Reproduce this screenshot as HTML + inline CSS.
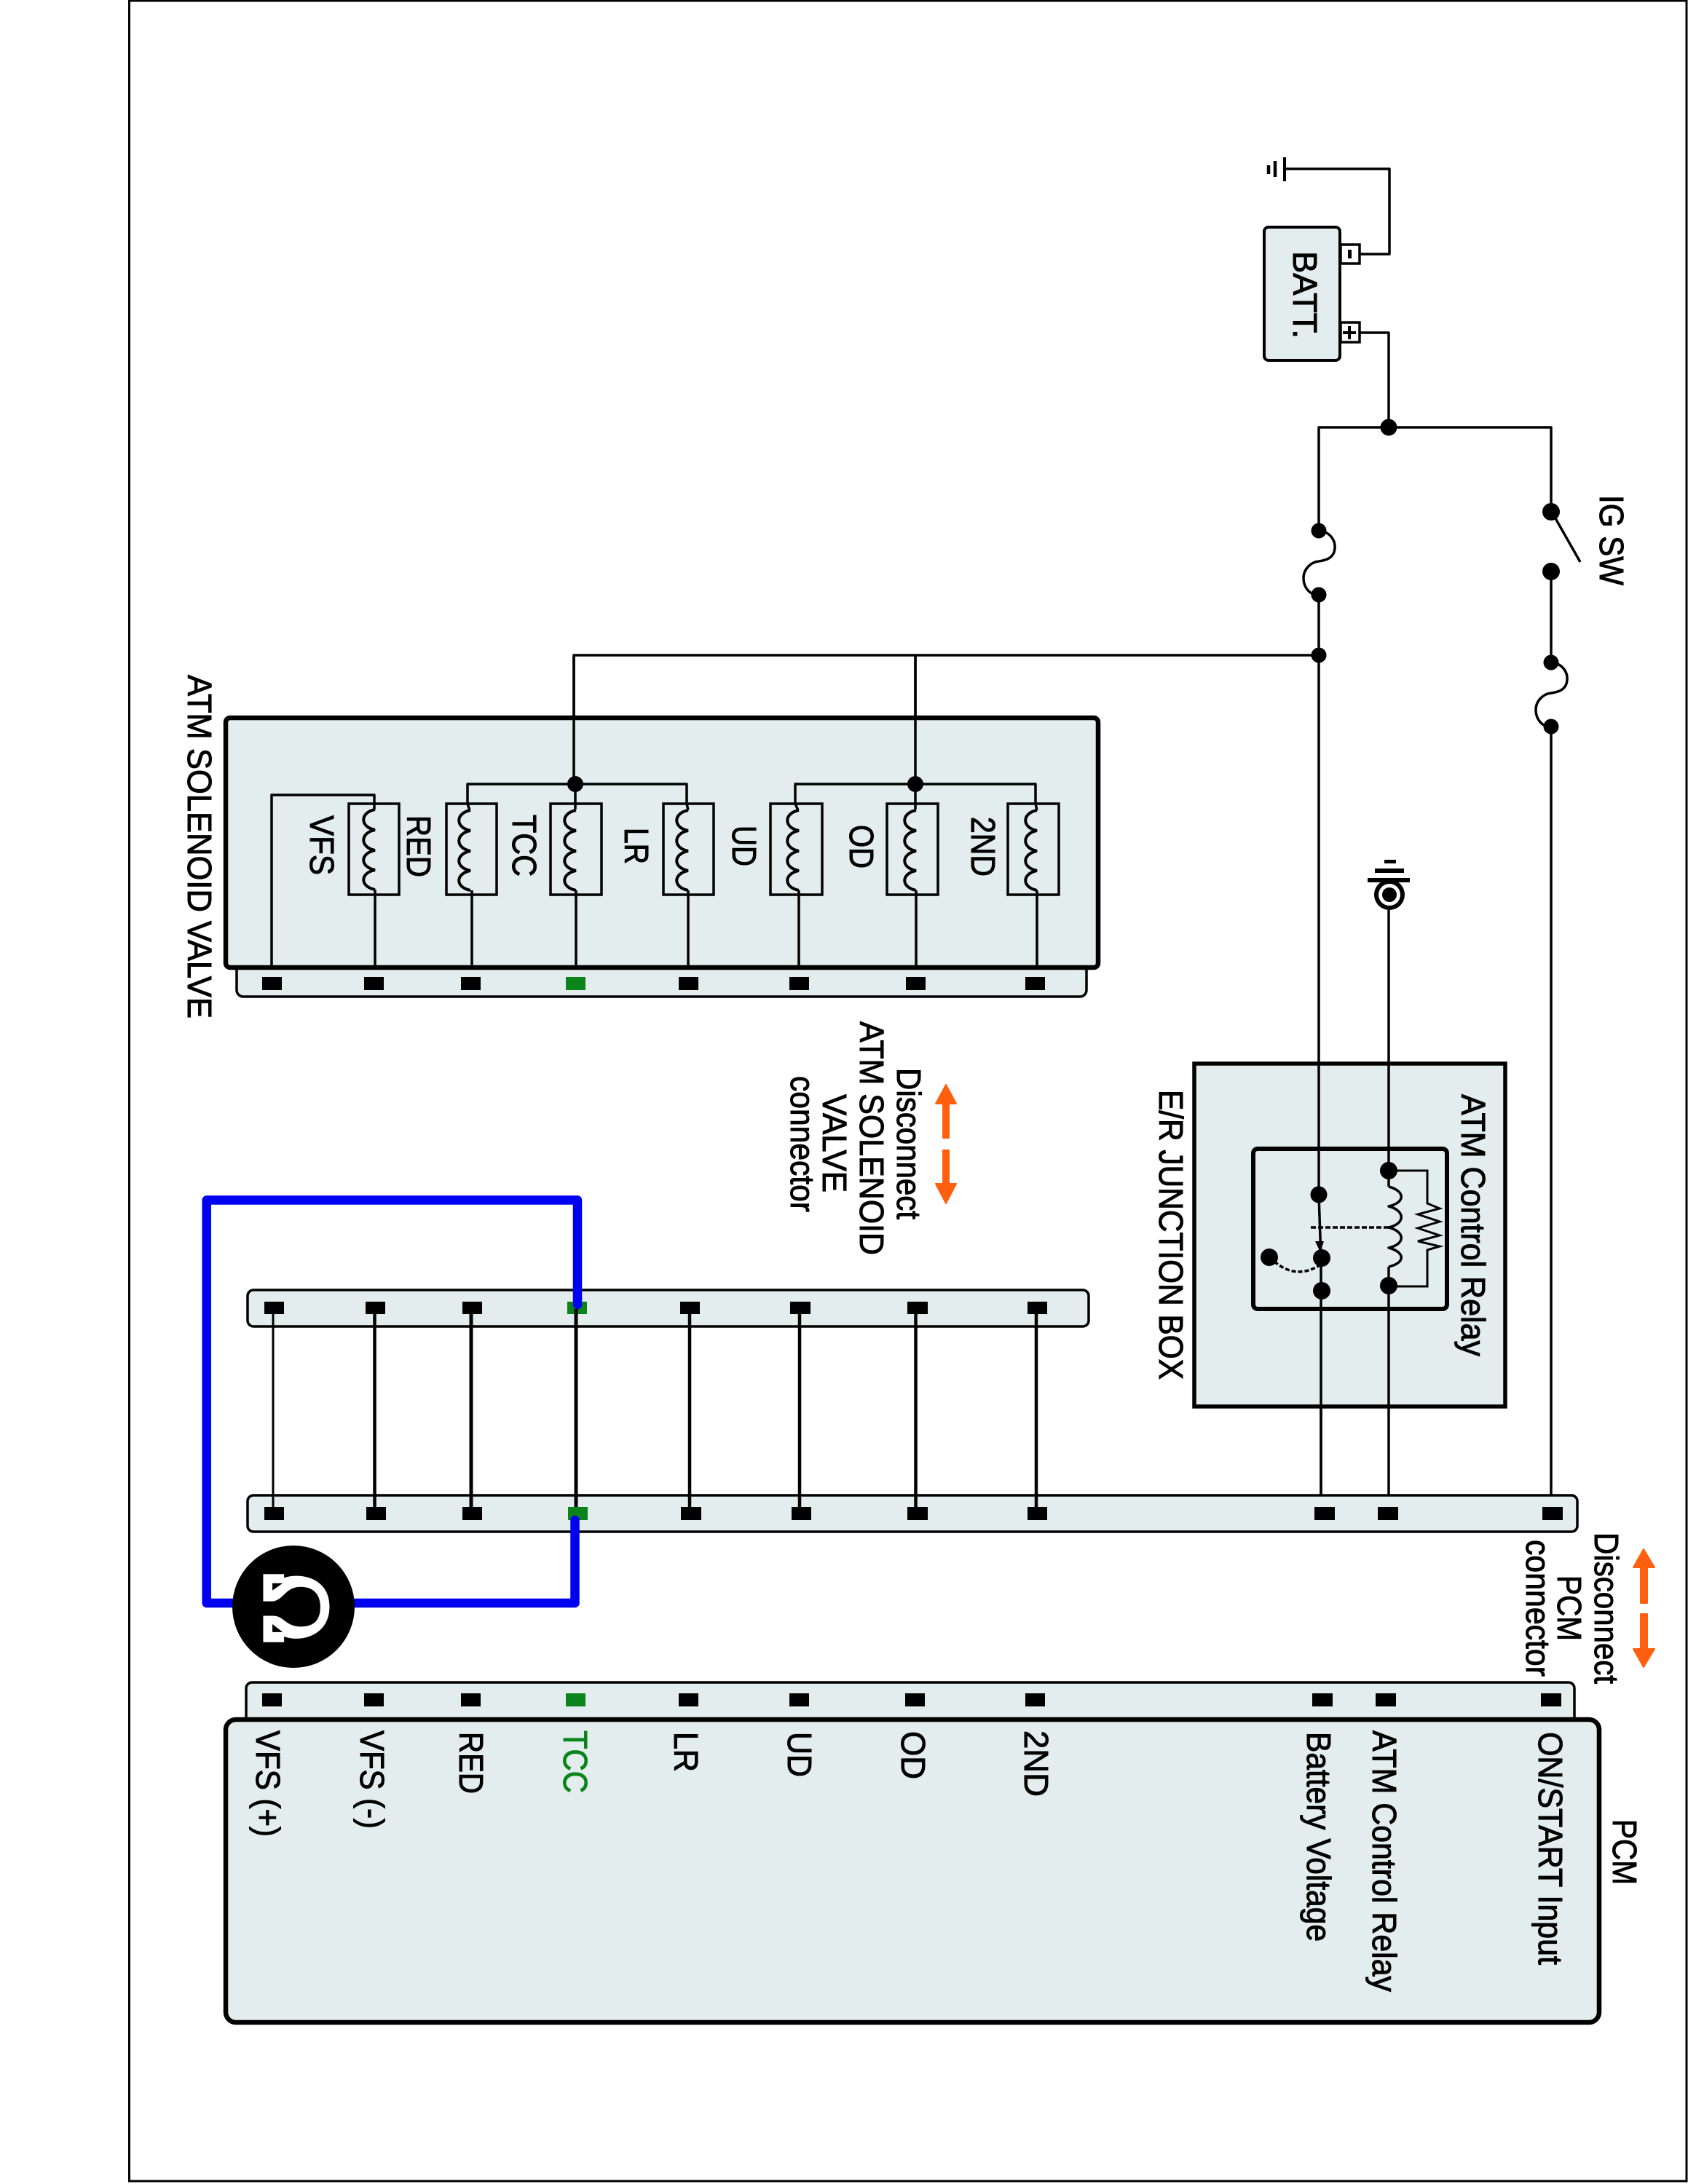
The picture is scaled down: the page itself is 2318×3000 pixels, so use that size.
<!DOCTYPE html>
<html><head><meta charset="utf-8"><title>ATM solenoid circuit</title>
<style>
html,body{margin:0;padding:0;background:#fff}
svg{display:block}
text{font-family:"Liberation Sans",Arial,sans-serif;font-size:46px;fill:#000;stroke:#000;stroke-width:1}
.w{fill:none;stroke:#000;stroke-width:3.5;stroke-linejoin:round}
.b{fill:#e4edee;stroke:#000}
.c{fill:none;stroke:#000;stroke-width:3.5}
.p{fill:#000}
.g{fill:#0b851b}
.o{fill:#ff5f0f;stroke:#ff5f0f;stroke-width:2;stroke-linejoin:round}
</style></head><body>
<svg xmlns="http://www.w3.org/2000/svg" width="2318" height="3000" viewBox="0 0 2318 3000">
<defs>
<path id="coil" d="M0 0C-21 4-21 24 0 28C-21 32-21 52 0 56C-21 60-21 79 0 83C-21 87-21 106 0 110" fill="none" stroke="#000" stroke-width="4"/>
</defs>
<rect width="2318" height="3000" fill="#fff"/>
<rect x="177.5" y="1" width="2138.5" height="2995" fill="none" stroke="#000" stroke-width="3"/>

<!-- Ground & battery -->
<path d="M1764 216V249" stroke="#000" stroke-width="4"/>
<path d="M1751 221V243" stroke="#000" stroke-width="4.5"/>
<path d="M1742 227V239" stroke="#000" stroke-width="4.5"/>
<path class="w" d="M1764 232H1908V349H1867"/>
<rect class="b" x="1736" y="312" width="104" height="183" rx="6" stroke-width="4"/>
<rect x="1841" y="336" width="26" height="26" fill="#fff" stroke="#000" stroke-width="3.5"/>
<rect x="1841" y="443" width="26" height="27" fill="#fff" stroke="#000" stroke-width="3.5"/>
<rect x="1851" y="343" width="5" height="12" fill="#000"/>
<path d="M1844 457H1862M1853 448V466" stroke="#000" stroke-width="4"/>
<text transform="translate(1776 345) rotate(90)" textLength="120" lengthAdjust="spacingAndGlyphs">BATT.</text>
<path class="w" d="M1867 457H1907V587"/>
<path class="w" d="M1811 729V587H2130V703"/>
<circle class="p" cx="1907" cy="587" r="11.5"/>

<!-- left fuse -->
<path class="w" d="M1811 729C1826 730 1834 742 1833 753C1832 768 1818 770 1811 771C1800 772 1790 782 1790 794C1790 806 1797 814 1805 817"/>
<circle class="p" cx="1811" cy="729" r="10.5"/><circle class="p" cx="1811" cy="817" r="10.5"/><circle class="p" cx="1811" cy="900" r="10.5"/>
<path class="w" d="M1811 817V1641L1813 1700L1814 1728V2072"/>
<path class="w" d="M1811 900H788V1077"/>
<path class="w" d="M1257 900V1077"/>

<!-- IG switch and fuse -->
<circle class="p" cx="2130" cy="703" r="12"/><circle class="p" cx="2130" cy="785" r="12"/>
<path d="M2132 705L2170 772" stroke="#000" stroke-width="3.5"/>
<path class="w" d="M2130 785V910"/>
<path class="w" d="M2130 910C2145 911 2153 923 2152 934C2151 949 2137 951 2130 952C2119 953 2109 963 2109 975C2109 987 2116 995 2124 998"/>
<circle class="p" cx="2130" cy="910" r="10.5"/><circle class="p" cx="2130" cy="998" r="10.5"/>
<path class="w" d="M2130 998V2072"/>
<text transform="translate(2197 680) rotate(90)" textLength="124" lengthAdjust="spacingAndGlyphs">IG SW</text>

<!-- Solenoid strip & box -->
<rect class="b" x="325" y="1300" width="1167" height="69" rx="9" stroke-width="3.5"/>
<rect class="b" x="310" y="986" width="1198" height="343" rx="6" stroke-width="6.5"/>
<path class="w" d="M788 900V1077"/><path class="w" d="M1257 900V1077"/>
<g fill="none">
<rect class="c" x="479" y="1104" width="69" height="125"/>
<rect class="c" x="613" y="1104" width="69" height="125"/>
<rect class="c" x="756" y="1104" width="70" height="125"/>
<rect class="c" x="911" y="1104" width="69" height="125"/>
<rect class="c" x="1058" y="1104" width="71" height="125"/>
<rect class="c" x="1218" y="1104" width="70" height="125"/>
<rect class="c" x="1384" y="1104" width="70" height="125"/>
</g>
<path class="w" d="M373 1329V1092H514V1112"/>
<path class="w" d="M642 1104V1077H943V1104"/>
<path class="w" d="M790 1077V1112"/>
<path class="w" d="M1092 1104V1077H1422V1104"/>
<path class="w" d="M1257 1077V1112"/>
<path class="w" d="M642 1104L645 1113M943 1104L945 1113M1092 1104L1096 1113M1422 1104L1424 1113"/>
<use href="#coil" x="515" y="1112"/><use href="#coil" x="646" y="1113"/><use href="#coil" x="791" y="1113"/><use href="#coil" x="945" y="1113"/><use href="#coil" x="1097" y="1113"/><use href="#coil" x="1258" y="1113"/><use href="#coil" x="1424" y="1113"/>
<path class="w" d="M515 1222V1329M648 1223V1329M791 1223V1329M945 1223V1329M1097 1223V1329M1258 1223V1329M1424 1223V1329"/>
<circle class="p" cx="790" cy="1077" r="11"/><circle class="p" cx="1257" cy="1077" r="11"/>
<rect class="p" x="360" y="1342" width="27" height="18"/><rect class="p" x="500" y="1342" width="27" height="18"/><rect class="p" x="633" y="1342" width="27" height="18"/><rect class="g" x="777" y="1342" width="27" height="18"/><rect class="p" x="932" y="1342" width="27" height="18"/><rect class="p" x="1084" y="1342" width="27" height="18"/><rect class="p" x="1244" y="1342" width="27" height="18"/><rect class="p" x="1408" y="1342" width="27" height="18"/>
<text transform="translate(258 927) rotate(90)" textLength="472" lengthAdjust="spacingAndGlyphs">ATM SOLENOID VALVE</text>
<text transform="translate(426 1120) rotate(90)" textLength="82" lengthAdjust="spacingAndGlyphs">VFS</text>
<text transform="translate(559 1120) rotate(90)" textLength="85" lengthAdjust="spacingAndGlyphs">RED</text>
<text transform="translate(704 1119) rotate(90)" textLength="85" lengthAdjust="spacingAndGlyphs">TCC</text>
<text transform="translate(858 1137) rotate(90)" textLength="50" lengthAdjust="spacingAndGlyphs">LR</text>
<text transform="translate(1006 1134) rotate(90)" textLength="56" lengthAdjust="spacingAndGlyphs">UD</text>
<text transform="translate(1167 1133) rotate(90)" textLength="60" lengthAdjust="spacingAndGlyphs">OD</text>
<text transform="translate(1334 1122) rotate(90)" textLength="82" lengthAdjust="spacingAndGlyphs">2ND</text>

<!-- Disconnect solenoid -->
<path class="o" d="M1299 1490L1313 1516H1303V1563H1295V1516H1285Z"/>
<path class="o" d="M1295 1580H1303V1626H1313L1299 1653L1285 1626H1295Z"/>
<text transform="translate(1232 1467) rotate(90)" textLength="208" lengthAdjust="spacingAndGlyphs">Disconnect</text>
<text transform="translate(1181 1403) rotate(90)" textLength="321" lengthAdjust="spacingAndGlyphs">ATM SOLENOID</text>
<text transform="translate(1130 1503) rotate(90)" textLength="135" lengthAdjust="spacingAndGlyphs">VALVE</text>
<text transform="translate(1086 1478) rotate(90)" textLength="187" lengthAdjust="spacingAndGlyphs">connector</text>

<!-- Junction box -->
<rect class="b" x="1640" y="1461" width="427" height="471" stroke-width="5.5"/>
<rect class="b" x="1721" y="1578" width="266" height="220" rx="6" stroke-width="6"/>
<path class="w" d="M1811 1460V1641L1813 1700L1814 1728V2072"/>
<path d="M1800 1686H1907" fill="none" stroke="#000" stroke-width="3.5" stroke-dasharray="7 3"/>
<path class="w" d="M1907 1250V1630"/>
<path class="w" d="M1907 1630C1930 1636 1930 1652 1907 1657C1930 1663 1930 1681 1907 1686C1930 1692 1930 1709 1907 1714C1930 1720 1930 1735 1907 1740"/>
<path class="w" d="M1907 1740V2072"/>
<path d="M1907 1608H1960V1653L1977 1660L1947 1668L1977 1678L1947 1687L1977 1697L1947 1705L1977 1712L1960 1717V1767H1907" fill="none" stroke="#000" stroke-width="3"/>
<circle class="p" cx="1907" cy="1608" r="12"/><circle class="p" cx="1907" cy="1766" r="12"/>
<circle class="p" cx="1811" cy="1641" r="11.5"/><circle class="p" cx="1815" cy="1728" r="12"/><circle class="p" cx="1815" cy="1773" r="12"/><circle class="p" cx="1743" cy="1727" r="12"/>
<path class="p" d="M1806 1705H1818L1813 1720Z"/>
<path d="M1750 1733Q1780 1758 1812 1738" fill="none" stroke="#000" stroke-width="3.5" stroke-dasharray="6 3"/>
<text transform="translate(2007 1503) rotate(90)" textLength="360" lengthAdjust="spacingAndGlyphs">ATM Control Relay</text>
<text transform="translate(1592 1497) rotate(90)" textLength="398" lengthAdjust="spacingAndGlyphs">E/R JUNCTION BOX</text>

<!-- Ground near relay -->
<rect class="p" x="1901" y="1181" width="16" height="5"/>
<rect class="p" x="1888" y="1193" width="40" height="6"/>
<rect class="p" x="1878" y="1206" width="58" height="6"/>
<circle class="p" cx="1908" cy="1229" r="21"/><circle cx="1908" cy="1229" r="15" fill="#fff"/><circle class="p" cx="1908" cy="1229" r="10"/>

<!-- Middle connectors -->
<rect class="b" x="340" y="1772" width="1155" height="50" rx="8" stroke-width="3.5"/>
<rect class="b" x="340" y="2054" width="1826" height="50" rx="8" stroke-width="3.5"/>
<g stroke="#000" fill="none">
<path d="M375 1805V2070" stroke-width="3"/>
<path d="M514.5 1805V2070" stroke-width="4.5"/>
<path d="M647 1805V2070" stroke-width="5"/>
<path d="M791 1805V2070" stroke-width="5"/>
<path d="M947 1805V2070" stroke-width="4.5"/>
<path d="M1098 1805V2070" stroke-width="4.5"/>
<path d="M1257.5 1805V2070" stroke-width="4.5"/>
<path d="M1423 1805V2070" stroke-width="4.5"/>
</g>
<rect class="p" x="363" y="1788" width="27" height="17"/><rect class="p" x="502" y="1788" width="27" height="17"/><rect class="p" x="635" y="1788" width="27" height="17"/><rect class="g" x="779" y="1788" width="27" height="17"/><rect class="p" x="934" y="1788" width="27" height="17"/><rect class="p" x="1085" y="1788" width="28" height="17"/><rect class="p" x="1246" y="1788" width="28" height="17"/><rect class="p" x="1411" y="1788" width="27" height="17"/>
<rect class="p" x="363" y="2070" width="27" height="18"/><rect class="p" x="503" y="2070" width="27" height="18"/><rect class="p" x="635" y="2070" width="27" height="18"/><rect class="g" x="780" y="2070" width="27" height="18"/><rect class="p" x="935" y="2070" width="28" height="18"/><rect class="p" x="1087" y="2070" width="27" height="18"/><rect class="p" x="1246" y="2070" width="28" height="18"/><rect class="p" x="1411" y="2070" width="27" height="18"/><rect class="p" x="1805" y="2070" width="28" height="18"/><rect class="p" x="1892" y="2070" width="28" height="18"/><rect class="p" x="2118" y="2070" width="28" height="18"/>

<!-- Blue jumper & ohm meter -->
<path d="M789.5 2088V2202H283.7V1648.5H793V1792" fill="none" stroke="#0000f0" stroke-width="12.5" stroke-linejoin="round" stroke-linecap="round"/>
<path d="M791 1798V1805" stroke="#000" stroke-width="5"/>
<ellipse class="p" cx="403" cy="2207" rx="84" ry="84"/>
<g transform="translate(260 1620) scale(.3827 .4975)">
<path fill="#fff" d="M265 1090H340V1100C400 1085 503 1100 503 1180C503 1260 400 1280 340 1262V1278H265V1205H300C340 1205 345 1235 400 1235C450 1235 470 1215 470 1180C470 1150 450 1125 400 1125C345 1125 340 1160 300 1165H265Z"/>
<path fill="#000" d="M298 1115H335L298 1135ZM298 1228L335 1250H298Z"/>
</g>

<!-- PCM -->
<rect class="b" x="338" y="2311" width="1824" height="80" rx="8" stroke-width="3.5"/>
<rect class="b" x="310" y="2362" width="1886" height="416" rx="14" stroke-width="6.5"/>
<rect class="p" x="360" y="2326" width="27" height="18"/><rect class="p" x="500" y="2326" width="27" height="18"/><rect class="p" x="633" y="2326" width="27" height="18"/><rect class="g" x="777" y="2326" width="27" height="18"/><rect class="p" x="932" y="2326" width="27" height="18"/><rect class="p" x="1084" y="2326" width="27" height="18"/><rect class="p" x="1243" y="2326" width="27" height="18"/><rect class="p" x="1408" y="2326" width="27" height="18"/><rect class="p" x="1802" y="2326" width="28" height="18"/><rect class="p" x="1889" y="2326" width="28" height="18"/><rect class="p" x="2116" y="2326" width="28" height="18"/>
<text transform="translate(352 2377) rotate(90)" textLength="146" lengthAdjust="spacingAndGlyphs">VFS (+)</text>
<text transform="translate(495 2377) rotate(90)" textLength="135" lengthAdjust="spacingAndGlyphs">VFS (-)</text>
<text transform="translate(631 2379) rotate(90)" textLength="85" lengthAdjust="spacingAndGlyphs">RED</text>
<text transform="translate(774 2377) rotate(90)" textLength="86" lengthAdjust="spacingAndGlyphs" style="fill:#0b851b;stroke:#0b851b">TCC</text>
<text transform="translate(926 2379) rotate(90)" textLength="55" lengthAdjust="spacingAndGlyphs">LR</text>
<text transform="translate(1082 2379) rotate(90)" textLength="62" lengthAdjust="spacingAndGlyphs">UD</text>
<text transform="translate(1238 2378) rotate(90)" textLength="66" lengthAdjust="spacingAndGlyphs">OD</text>
<text transform="translate(1407 2377) rotate(90)" textLength="91" lengthAdjust="spacingAndGlyphs">2ND</text>
<text transform="translate(1795 2379) rotate(90)" textLength="288" lengthAdjust="spacingAndGlyphs">Battery Voltage</text>
<text transform="translate(1885 2377) rotate(90)" textLength="359" lengthAdjust="spacingAndGlyphs">ATM Control Relay</text>
<text transform="translate(2113 2379) rotate(90)" textLength="320" lengthAdjust="spacingAndGlyphs">ON/START Input</text>
<text transform="translate(2215 2499) rotate(90)" textLength="90" lengthAdjust="spacingAndGlyphs">PCM</text>

<!-- Disconnect PCM -->
<path class="o" d="M2257 2128L2272 2153H2262V2202H2253V2153H2243Z"/>
<path class="o" d="M2253 2217H2262V2265H2272L2257 2290L2243 2265H2253Z"/>
<text transform="translate(2190 2105) rotate(90)" textLength="208" lengthAdjust="spacingAndGlyphs">Disconnect</text>
<text transform="translate(2139 2164) rotate(90)" textLength="90" lengthAdjust="spacingAndGlyphs">PCM</text>
<text transform="translate(2096 2115) rotate(90)" textLength="188" lengthAdjust="spacingAndGlyphs">connector</text>
</svg>
</body></html>
